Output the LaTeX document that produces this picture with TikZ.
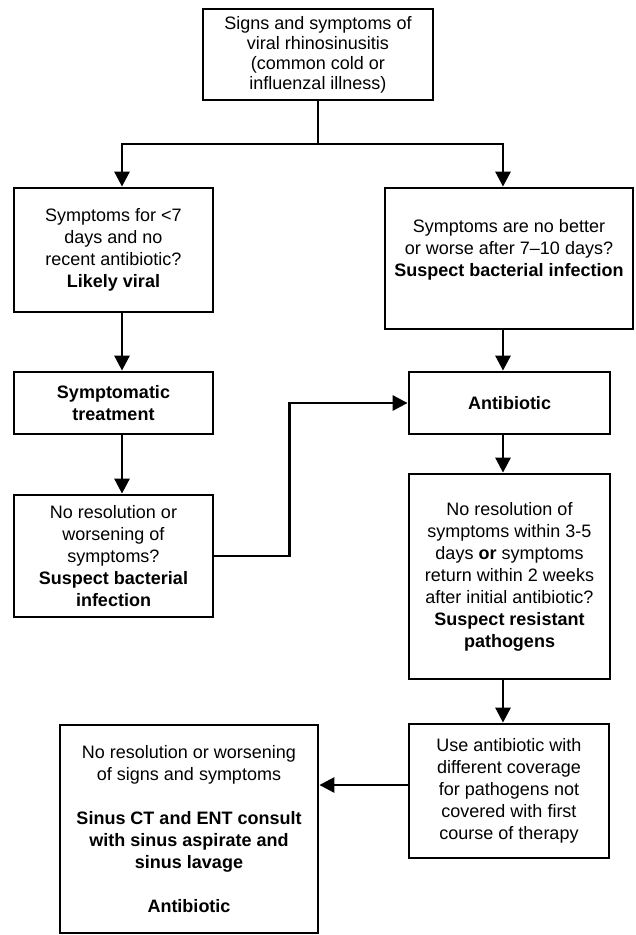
\documentclass[tikz,border=0pt]{standalone}
\usepackage{fontspec}
\setmainfont{Liberation Sans}
\usetikzlibrary{arrows.meta}

\tikzset{
  flowbox/.style={draw, line width=2.8pt, align=center, inner sep=0pt,
    font=\fontsize{18}{22}\selectfont},
  flowline/.style={line width=2.8pt},
  flowarrow/.style={line width=2.8pt, -{Triangle[width=15pt,length=15pt]}}
}

\begin{document}
\begin{tikzpicture}[x=1pt,y=-1pt]
    \useasboundingbox (0,0) rectangle (635,935);

    \node[flowbox, minimum width=230, minimum height=91, font=\fontsize{18}{20}\selectfont] (signs) at (318,54.5)
      {Signs and symptoms of\\viral rhinosinusitis\\(common cold or\\influenzal illness)};

    \node[flowbox, minimum width=199, minimum height=124] (viral) at (113.5,250)
      {Symptoms for <7\\days and no\\recent antibiotic?\\\textbf{Likely viral}};
    \node[flowbox, minimum width=248, minimum height=141] (bact) at (509,258.5)
      {Symptoms are no better\\or worse after 7--10 days?\\\textbf{Suspect bacterial infection}\\\mbox{}};

    \node[flowbox, minimum width=199, minimum height=62] (symptomatic) at (113.5,403)
      {\textbf{Symptomatic}\\\textbf{treatment}};
    \node[flowbox, minimum width=201, minimum height=62] (antibiotic) at (509.5,403)
      {\textbf{Antibiotic}};

    \node[flowbox, minimum width=199, minimum height=122] (worsening) at (113.5,556)
      {No resolution or\\worsening of\\symptoms?\\\textbf{Suspect bacterial}\\\textbf{infection}};
    \node[flowbox, minimum width=201, minimum height=205] (resistant) at (509.5,576.5)
      {No resolution of\\symptoms within 3-5\\days \textbf{or} symptoms\\return within 2 weeks\\after initial antibiotic?\\\textbf{Suspect resistant}\\\textbf{pathogens}};

    \node[flowbox, minimum width=200, minimum height=134] (coverage) at (509,791)
      {Use antibiotic with\\different coverage\\for pathogens not\\covered with first\\course of therapy};
    \node[flowbox, minimum width=258, minimum height=208] (consult) at (189,829)
      {No resolution or worsening\\of signs and symptoms\\[22pt]\textbf{Sinus CT and ENT consult}\\\textbf{with sinus aspirate and}\\\textbf{sinus lavage}\\[22pt]\textbf{Antibiotic}};

    \coordinate (fork) at (318,144);
    \coordinate (leftcol) at (122,0);
    \coordinate (rightcol) at (503,0);

    \draw[flowline] (signs.south) -- (fork);
    \draw[flowarrow] (fork) -| (leftcol |- viral.north);
    \draw[flowarrow] (fork) -| (rightcol |- bact.north);

    \draw[flowarrow] (leftcol |- viral.south) -- (leftcol |- symptomatic.north);
    \draw[flowarrow] (leftcol |- symptomatic.south) -- (leftcol |- worsening.north);
    \draw[flowarrow] (worsening.east) -- ++(75,0) |- (antibiotic.west);

    \draw[flowarrow] (rightcol |- bact.south) -- (rightcol |- antibiotic.north);
    \draw[flowarrow] (rightcol |- antibiotic.south) -- (rightcol |- resistant.north);
    \draw[flowarrow] (rightcol |- resistant.south) -- (rightcol |- coverage.north);
    \draw[flowarrow] ([yshift=6pt]coverage.west) -- ([yshift=6pt]coverage.west -| consult.east);
  \end{tikzpicture}
\end{document}
